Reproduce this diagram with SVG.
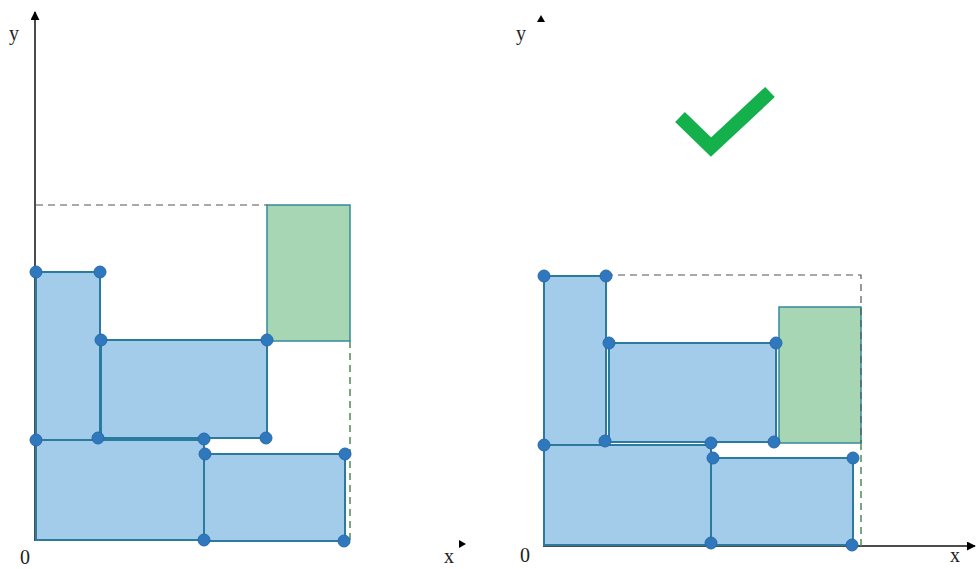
<svg xmlns="http://www.w3.org/2000/svg" width="976" height="569" viewBox="0 0 976 569">
<defs>
<marker id="arr" viewBox="0 0 10 10" refX="9" refY="5" markerWidth="6" markerHeight="6" orient="auto"><path d="M0,0 L10,5 L0,10 z" fill="#000"/></marker>
</defs>
<style>
.blue{fill:#a3cbea;stroke:#2a7b9e;stroke-width:2}
.green{fill:#a6d6b3;stroke:#358a98;stroke-width:1.5}
.dot{fill:#2f78be;stroke:#2a6aa8;stroke-width:1}
.dash{fill:none;stroke:#555;stroke-width:1.2;stroke-dasharray:7,5}
.dashg{fill:none;stroke:#4d8a5a;stroke-width:1.5;stroke-dasharray:7,5}
.axis{stroke:#111;stroke-width:1.5;fill:none}
.lbl{font-family:"Liberation Serif",serif;font-size:20px;fill:#222}
</style>
<g id="connectors">
<line class="axis" x1="35" y1="541" x2="35" y2="12" marker-end="url(#arr)"/>
<path d="M459,540 l7,4 l-7,4 z" fill="#000"/>
<path d="M537,22 l4,-7 l4,7 z" fill="#000"/>
<line class="axis" x1="543" y1="546" x2="975" y2="546" marker-end="url(#arr)"/>
</g>
<g id="left">
<rect id="L-A" class="blue" x="36" y="272" width="64" height="168"/>
<rect id="L-B" class="blue" x="101" y="340" width="166" height="98"/>
<rect id="L-C" class="blue" x="36" y="440" width="168" height="100"/>
<rect id="L-D" class="blue" x="204" y="454" width="141" height="87"/>
<rect id="L-G" class="green" x="267" y="205" width="83" height="136"/>
<line class="dash" x1="36" y1="205" x2="267" y2="205"/>
<line class="dashg" x1="350" y1="341" x2="350" y2="541"/>
<g id="L-dots">
<circle class="dot" cx="36" cy="272" r="6"/><circle class="dot" cx="100" cy="272" r="6"/>
<circle class="dot" cx="101" cy="340" r="6"/><circle class="dot" cx="267" cy="340" r="6"/>
<circle class="dot" cx="36" cy="440" r="6"/><circle class="dot" cx="98" cy="438" r="6"/>
<circle class="dot" cx="204" cy="439" r="6"/><circle class="dot" cx="266" cy="438" r="6"/>
<circle class="dot" cx="205" cy="454" r="6"/><circle class="dot" cx="345" cy="454" r="6"/>
<circle class="dot" cx="204" cy="540" r="6"/><circle class="dot" cx="344" cy="541" r="6"/>
</g>
<text class="lbl" x="9" y="40">y</text>
<text class="lbl" x="20" y="564">0</text>
<text class="lbl" x="444" y="563">x</text>
</g>
<g id="right">
<rect id="R-A" class="blue" x="544" y="276" width="62" height="169"/>
<rect id="R-B" class="blue" x="609" y="343" width="167" height="99"/>
<rect id="R-C" class="blue" x="544" y="445" width="167" height="100"/>
<rect id="R-D" class="blue" x="711" y="458" width="142" height="87"/>
<rect id="R-G" class="green" x="779" y="307" width="82" height="136"/>
<polyline class="dash" points="606,275 861,275 861,443"/>
<line class="dashg" x1="861" y1="443" x2="861" y2="546"/>
<g id="R-dots">
<circle class="dot" cx="544" cy="276" r="6"/><circle class="dot" cx="606" cy="276" r="6"/>
<circle class="dot" cx="609" cy="343" r="6"/><circle class="dot" cx="776" cy="343" r="6"/>
<circle class="dot" cx="544" cy="445" r="6"/><circle class="dot" cx="605" cy="441" r="6"/>
<circle class="dot" cx="711" cy="443" r="6"/><circle class="dot" cx="774" cy="442" r="6"/>
<circle class="dot" cx="713" cy="458" r="6"/><circle class="dot" cx="853" cy="458" r="6"/>
<circle class="dot" cx="711" cy="543" r="6"/><circle class="dot" cx="852" cy="545" r="6"/>
</g>
<text class="lbl" x="516" y="40">y</text>
<text class="lbl" x="520" y="562">0</text>
<text class="lbl" x="950" y="562">x</text>
</g>
<g id="check">
<polyline points="680,117 711,147 770,92" fill="none" stroke="#14b04c" stroke-width="14" stroke-linejoin="miter"/>
</g>
</svg>
